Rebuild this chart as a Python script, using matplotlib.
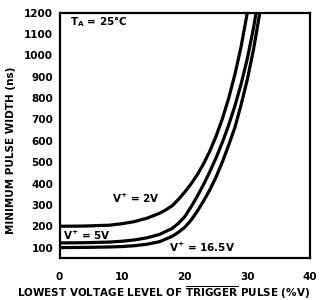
import matplotlib.pyplot as plt

# data (x = % of V+, y = ns)
x_2v = [0, 4, 8, 10, 12, 14, 16, 17, 18, 19, 20, 21, 22, 23, 24, 25, 26, 27, 28, 29, 30]
y_2v = [200, 201, 205, 212, 222, 238, 261, 277, 296, 326, 360, 398, 441, 492, 551, 621, 702, 797, 909, 1040, 1200]

x_5v = [0, 4, 8, 10, 12, 14, 16, 18, 19, 20, 21, 22, 23, 24, 25, 26, 27, 28, 29, 30, 31, 31.4]
y_5v = [122, 123, 126, 130, 136, 146, 162, 190, 214, 245, 290, 340, 395, 455, 520, 592, 672, 762, 865, 985, 1130, 1200]

x_16v = [0, 4, 8, 10, 12, 14, 16, 18, 19, 20, 21, 22, 23, 24, 25, 26, 27, 28, 29, 30, 31, 32]
y_16v = [100, 101, 103, 105, 109, 116, 128, 153, 172, 195, 228, 270, 318, 370, 430, 500, 578, 661, 768, 887, 1029, 1200]

x_ticks = [0, 10, 20, 30, 40]
y_ticks = [100, 200, 300, 400, 500, 600, 700, 800, 900, 1000, 1100, 1200]

plt.rcParams['font.family'] = 'DejaVu Sans'
plt.rcParams['font.weight'] = 'bold'
plt.rcParams['mathtext.default'] = 'bf'

fig = plt.figure(figsize=(3.29, 3.00), dpi=100)
ax = fig.add_axes([0.181, 0.139, 0.761, 0.819])

# three supply-voltage curves
for xs, ys in [(x_2v, y_2v), (x_5v, y_5v), (x_16v, y_16v)]:
    ax.plot(xs, ys, color='black', linewidth=2.3, solid_joinstyle='round')

ax.set_xlim(0, 40)
ax.set_ylim(50, 1200)
ax.set_xticks(x_ticks)
ax.set_yticks(y_ticks)
ax.tick_params(axis='both', length=0, labelsize=7.5)
ax.tick_params(axis='x', pad=10)
ax.tick_params(axis='y', pad=4.5)
for s in ax.spines.values():
    s.set_linewidth(1.6)

# axis titles
ax.set_xlabel(r'LOWEST VOLTAGE LEVEL OF $\overline{\mathbf{TRIGGER}}$ PULSE (%V)',
              fontsize=7.5, fontweight='bold')
ax.xaxis.set_label_coords(0.417, -0.106)
ax.set_ylabel('MINIMUM PULSE WIDTH (ns)', fontsize=7.5, fontweight='bold')
ax.yaxis.set_label_coords(-0.175, 0.44)

# curve labels
ax.text(1.7, 1156, r'T$_{A}$ = 25°C', fontsize=7.5, fontweight='bold', ha='left', va='center')
ax.text(12.2, 332, r'V$^{+}$ = 2V', fontsize=7.5, fontweight='bold', ha='center', va='center')
ax.text(4.4, 159, r'V$^{+}$ = 5V', fontsize=7.5, fontweight='bold', ha='center', va='center')
ax.text(22.8, 103, r'V$^{+}$ = 16.5V', fontsize=7.5, fontweight='bold', ha='center', va='center')

fig.savefig('out.png', dpi=100)
